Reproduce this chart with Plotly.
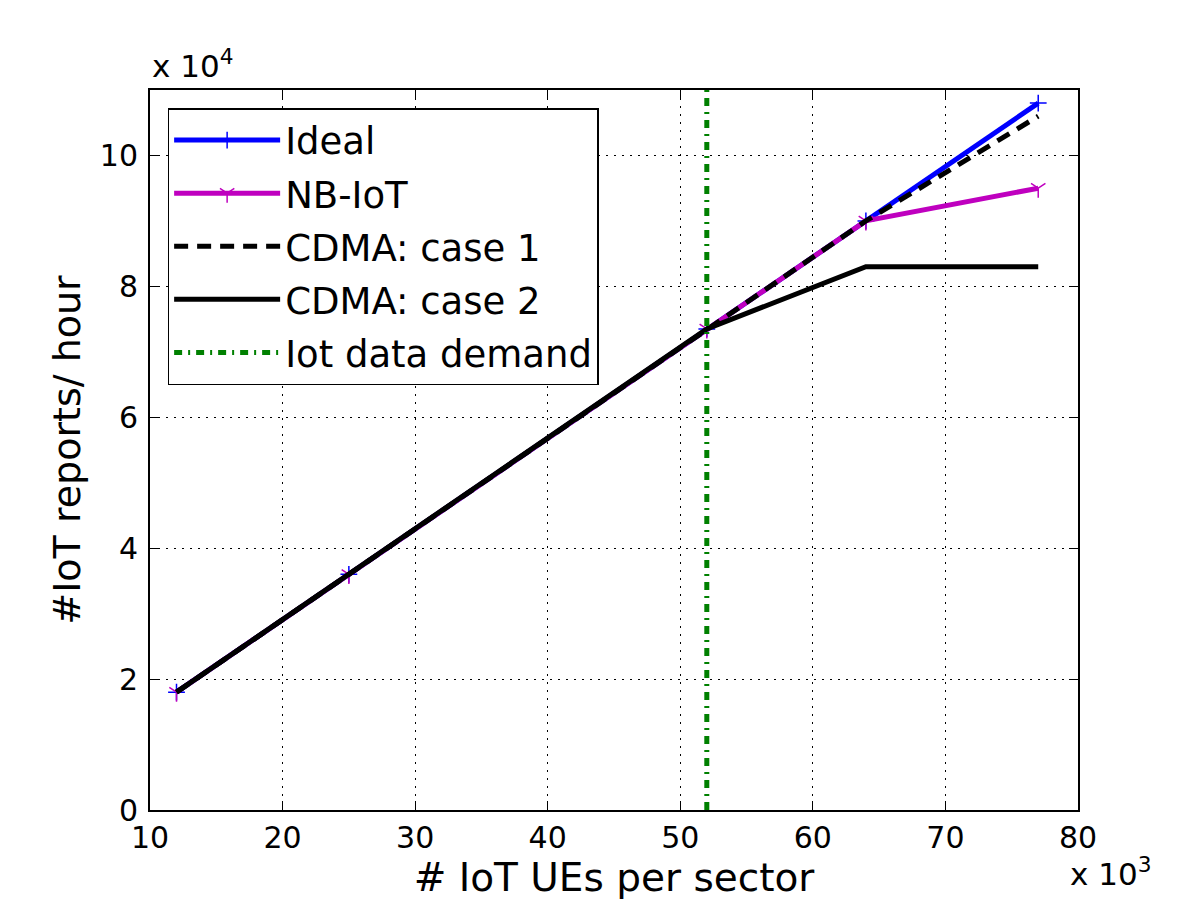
import plotly.graph_objects as go

# x: IoT UEs per sector (x 10^3); y: IoT reports/hour (x 10^4)
ues_k = [12, 25, 52, 64, 77]
ideal = [1.8, 3.6, 7.35, 9.0, 10.8]
nbiot = [1.8, 3.6, 7.35, 9.0, 9.5]
cdma_case1 = [1.8, 3.6, 7.35, 9.0, 10.6]
cdma_case2 = [1.8, 3.6, 7.35, 8.3, 8.3]
demand_x = [52, 52]
demand_y = [0, 11]

x_ticks = [10, 20, 30, 40, 50, 60, 70, 80]
y_ticks = [0, 2, 4, 6, 8, 10]

FONT = "DejaVu Sans"

fig = go.Figure()
fig.add_trace(go.Scatter(
    x=ues_k, y=ideal, name="Ideal", mode="lines+markers",
    line=dict(color="#0000ff", width=5),
    marker=dict(symbol="cross-thin", size=12, color="#0000ff",
                line=dict(color="#0000ff", width=1.5)),
    legendgroup="a"))
fig.add_trace(go.Scatter(
    x=ues_k, y=nbiot, name="NB-IoT", mode="lines+markers",
    line=dict(color="#bf00bf", width=5),
    marker=dict(symbol="y-down", size=12, color="#bf00bf",
                line=dict(color="#bf00bf", width=1.5)),
    legendgroup="b"))
fig.add_trace(go.Scatter(
    x=ues_k, y=cdma_case1, name="CDMA: case 1", mode="lines",
    line=dict(color="black", width=5, dash="14px,9px"),
    legendgroup="c"))
fig.add_trace(go.Scatter(
    x=ues_k, y=cdma_case2, name="CDMA: case 2", mode="lines",
    line=dict(color="black", width=5),
    legendgroup="d"))
fig.add_trace(go.Scatter(
    x=demand_x, y=demand_y, name="Iot data demand", mode="lines",
    line=dict(color="#008000", width=5, dash="8px,6px,2px,6px"),
    legendgroup="e"))

axis_common = dict(
    showline=True, linecolor="black", linewidth=2, mirror="ticks",
    ticks="inside", ticklen=9, tickwidth=1, tickcolor="black",
    showgrid=True, gridcolor="black", gridwidth=1, griddash="2px,6px",
    zeroline=False, tickfont=dict(family=FONT, size=30, color="black"),
)

fig.update_xaxes(range=[10, 80], tickvals=x_ticks,
                 ticktext=[str(v) for v in x_ticks],
                 title=dict(text="# IoT UEs per sector",
                            font=dict(family=FONT, size=39, color="black"),
                            standoff=4),
                 **axis_common)
fig.update_yaxes(range=[0, 11], tickvals=y_ticks,
                 ticktext=[str(v) for v in y_ticks],
                 ticklabelstandoff=4,
                 title=dict(text="#IoT reports/ hour",
                            font=dict(family=FONT, size=38, color="black"),
                            standoff=8),
                 **axis_common)

fig.add_annotation(text="x 10<sup>4</sup>", xref="paper", yref="paper",
                   x=0.0, y=1.0, xanchor="left", yanchor="bottom", yshift=4,
                   showarrow=False,
                   font=dict(family=FONT, size=31, color="black"))
fig.add_annotation(text="x 10<sup>3</sup>", xref="paper", yref="paper",
                   x=1.0, y=0.0, xanchor="left", yanchor="top", xshift=-10, yshift=-40,
                   showarrow=False,
                   font=dict(family=FONT, size=31, color="black"))

fig.update_layout(
    width=1200, height=900,
    margin=dict(l=150, r=122, t=90, b=90),
    plot_bgcolor="white", paper_bgcolor="white",
    font=dict(family=FONT, color="black"),
    legend=dict(x=0.019, y=0.975, xanchor="left", yanchor="top",
                bgcolor="white", bordercolor="black", borderwidth=1.5,
                font=dict(family=FONT, size=37, color="black"),
                tracegroupgap=2, itemwidth=106),
    showlegend=True,
)

fig.write_html("out.html")
